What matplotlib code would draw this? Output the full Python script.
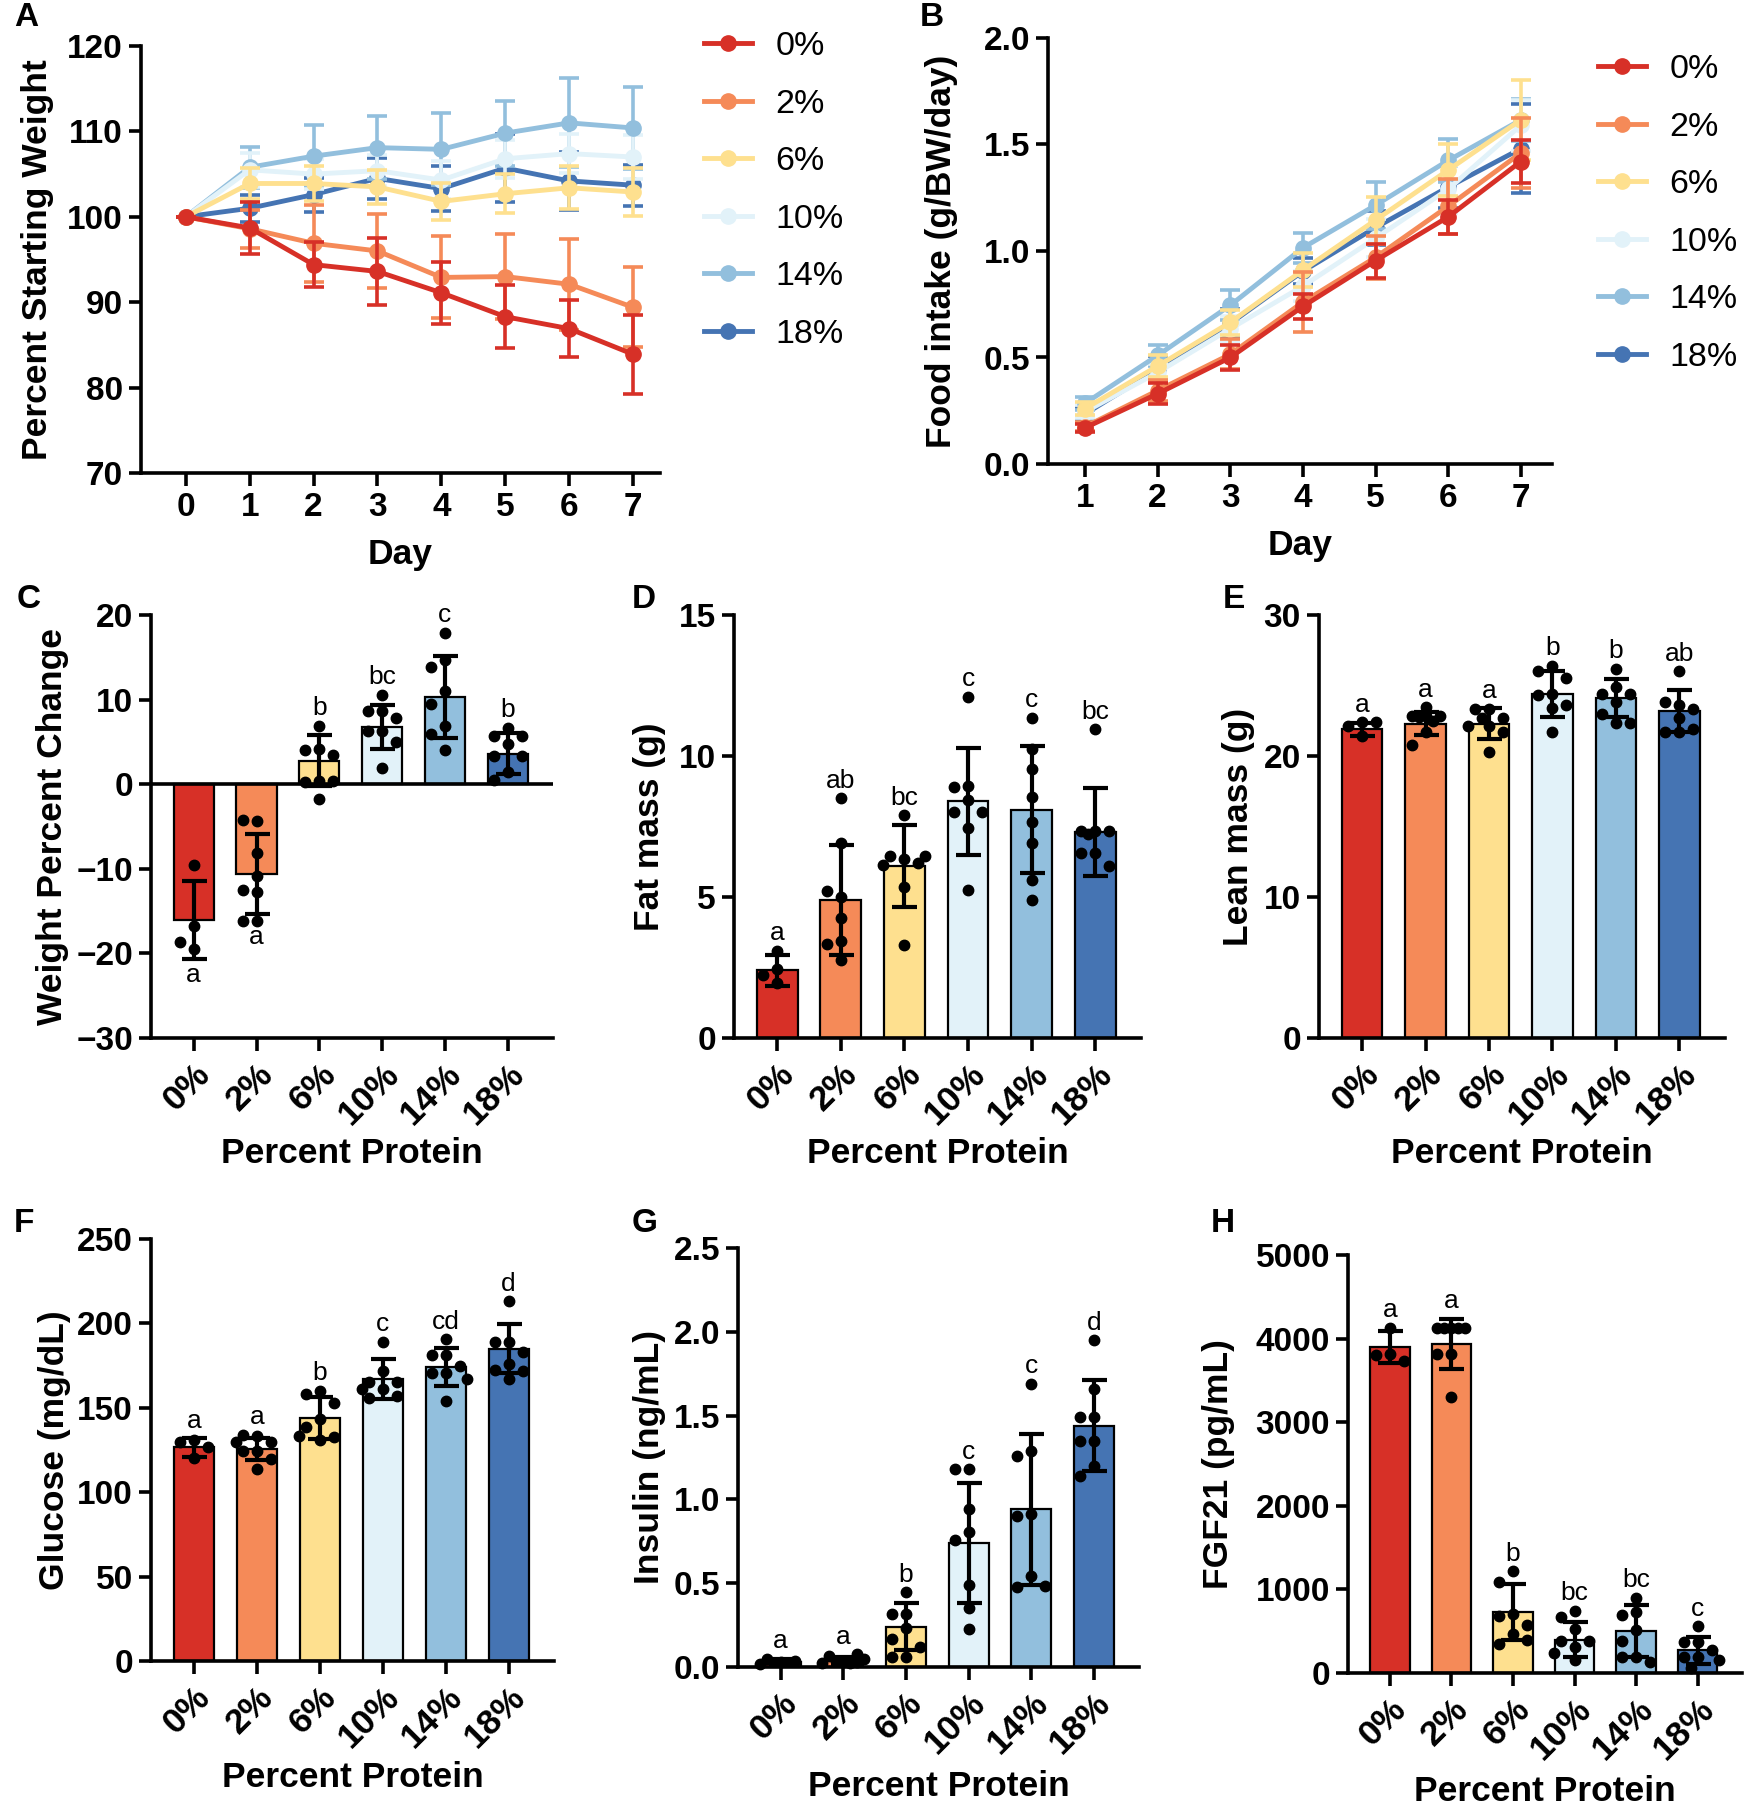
"""Low protein diet: body weight, food intake, body composition and serum panels (A-H)"""

from typing import Any
from typing import Sequence

import matplotlib as mpl
import numpy as np
from matplotlib import pyplot as plt

GROUPS = ["0%", "2%", "6%", "10%", "14%", "18%"]
COLOURS = ["#D73027", "#F58A58", "#FEE08F", "#E2F2F9", "#92BFDD", "#4574B3"]

# A: percent starting weight, one row per group
WEIGHT_DAYS = [0, 1, 2, 3, 4, 5, 6, 7]
WEIGHT_MEAN = [
    [100, 98.7, 94.4, 93.6, 91.1, 88.3, 86.9, 83.9],
    [100, 98.6, 96.9, 96.0, 92.9, 93.0, 92.1, 89.4],
    [100, 103.9, 103.9, 103.5, 101.8, 102.7, 103.4, 102.9],
    [100, 105.5, 105.0, 105.4, 104.3, 106.8, 107.4, 107.0],
    [100, 105.8, 107.1, 108.1, 107.9, 109.8, 111.0, 110.4],
    [100, 101.0, 102.6, 104.5, 103.3, 105.7, 104.2, 103.7],
]
WEIGHT_SD = [
    [0, 3.0, 2.6, 3.9, 3.6, 3.7, 3.3, 4.6],
    [0, 2.2, 4.5, 4.3, 4.8, 5.0, 5.3, 4.7],
    [0, 1.8, 2.0, 2.0, 2.2, 2.3, 2.5, 2.8],
    [0, 2.0, 1.8, 1.8, 2.2, 2.2, 2.3, 2.6],
    [0, 2.4, 3.6, 3.7, 4.2, 3.8, 5.2, 4.8],
    [0, 1.6, 2.0, 2.4, 2.6, 4.0, 3.4, 2.4],
]

# B: cumulative food intake
FOOD_DAYS = [1, 2, 3, 4, 5, 6, 7]
FOOD_MEAN = [
    [0.17, 0.33, 0.50, 0.74, 0.955, 1.16, 1.42],
    [0.175, 0.345, 0.515, 0.76, 0.97, 1.21, 1.46],
    [0.26, 0.46, 0.665, 0.91, 1.145, 1.38, 1.615],
    [0.245, 0.43, 0.635, 0.835, 1.06, 1.29, 1.59],
    [0.285, 0.51, 0.745, 1.015, 1.215, 1.425, 1.615],
    [0.235, 0.445, 0.66, 0.905, 1.11, 1.30, 1.48],
]
FOOD_SD = [
    [0.02, 0.05, 0.06, 0.06, 0.08, 0.08, 0.10],
    [0.02, 0.05, 0.07, 0.14, 0.10, 0.13, 0.165],
    [0.03, 0.05, 0.06, 0.08, 0.11, 0.12, 0.19],
    [0.03, 0.04, 0.06, 0.07, 0.09, 0.11, 0.12],
    [0.03, 0.05, 0.07, 0.07, 0.11, 0.10, 0.10],
    [0.03, 0.06, 0.07, 0.06, 0.08, 0.10, 0.21],
]

# C: weight percent change
CHANGE_MEAN = [-16.1, -10.6, 2.8, 6.8, 10.3, 3.6]
CHANGE_SD = [4.6, 4.7, 3.0, 2.6, 4.8, 2.4]
CHANGE_POINTS = [
    [-9.5, -16.8, -19.5, -18.7],
    [-4.4, -4.2, -8.1, -10.9, -12.8, -12.5, -16.2, -16.2],
    [6.9, 4.2, 4.0, 3.5, 0.4, 0.3, 0.4, -1.8],
    [10.6, 8.6, 8.6, 7.8, 6.3, 6.3, 5.0, 1.9],
    [17.9, 14.7, 13.8, 11.0, 9.5, 6.9, 5.9, 4.1],
    [6.7, 5.7, 5.7, 4.8, 3.3, 3.3, 1.5, 0.5],
]
CHANGE_LETTERS = ["a", "a", "b", "bc", "c", "b"]

# D: fat mass
FAT_MEAN = [2.4, 4.9, 6.1, 8.4, 8.1, 7.3]
FAT_SD = [0.55, 1.95, 1.45, 1.9, 2.25, 1.55]
FAT_POINTS = [
    [3.1, 2.45, 2.25, 1.95],
    [8.5, 6.9, 5.0, 5.2, 4.25, 3.45, 3.35, 2.75],
    [7.9, 6.35, 6.45, 6.2, 6.15, 5.35, 3.3, 6.45],
    [12.1, 8.95, 8.9, 8.45, 8.0, 8.0, 7.45, 5.25],
    [11.35, 10.25, 9.55, 8.55, 7.65, 6.9, 5.6, 4.9],
    [10.95, 7.35, 7.35, 7.35, 7.25, 6.55, 6.55, 6.1],
]
FAT_LETTERS = ["a", "ab", "bc", "c", "c", "bc"]

# E: lean mass
LEAN_MEAN = [21.9, 22.3, 22.3, 24.4, 24.1, 23.2]
LEAN_SD = [0.45, 0.8, 1.1, 1.6, 1.35, 1.5]
LEAN_POINTS = [
    [22.4, 22.1, 22.4, 21.4],
    [23.45, 22.85, 22.85, 22.85, 22.75, 22.5, 21.7, 20.8],
    [23.3, 23.3, 22.7, 22.7, 22.1, 22.1, 21.7, 20.3],
    [26.4, 26.0, 25.5, 24.4, 24.3, 23.6, 23.4, 21.7],
    [26.2, 24.9, 24.4, 24.4, 23.85, 23.0, 22.35, 22.35],
    [26.0, 23.65, 23.8, 23.3, 22.7, 21.7, 21.7, 21.95],
]
LEAN_LETTERS = ["a", "a", "a", "b", "b", "ab"]

# F: glucose
GLUCOSE_MEAN = [126.5, 125.5, 144, 167, 174, 185]
GLUCOSE_SD = [5.5, 6.5, 12.3, 11.7, 11.3, 14.6]
GLUCOSE_POINTS = [
    [131, 130, 127, 120],
    [133.5, 134, 124.5, 129.5, 129.5, 124.5, 119.5, 114],
    [160, 158, 153, 143.5, 138.5, 131, 132.5, 133],
    [189, 172, 165, 165, 161, 156, 157, 161],
    [190.5, 181, 181, 174.5, 170.5, 170.5, 167, 154],
    [213, 189, 189, 183, 176, 172.5, 167, 172],
]
GLUCOSE_LETTERS = ["a", "a", "b", "c", "cd", "d"]

# G: insulin
INSULIN_MEAN = [0.03, 0.04, 0.24, 0.74, 0.94, 1.44]
INSULIN_SD = [0.015, 0.02, 0.14, 0.36, 0.45, 0.27]
INSULIN_POINTS = [
    [0.03, 0.05, 0.035, 0.02],
    [0.03, 0.065, 0.075, 0.045, 0.025, 0.03, 0.035, 0.025],
    [0.445, 0.315, 0.315, 0.235, 0.17, 0.06, 0.06, 0.12],
    [1.18, 1.18, 0.945, 0.805, 0.76, 0.49, 0.35, 0.225],
    [1.69, 1.29, 1.26, 0.915, 0.9, 0.54, 0.48, 0.485],
    [1.95, 1.66, 1.49, 1.49, 1.35, 1.35, 1.2, 1.14],
]
INSULIN_LETTERS = ["a", "a", "b", "c", "c", "d"]

# H: FGF21
FGF21_MEAN = [3900, 3935, 725, 400, 505, 270]
FGF21_SD = [190, 300, 335, 210, 310, 165]
FGF21_POINTS = [
    [4130, 3810, 3800, 3730],
    [4130, 4130, 4130, 4130, 4130, 3810, 3810, 3305],
    [1215, 1090, 700, 680, 575, 470, 350, 400],
    [745, 665, 525, 385, 385, 315, 150, 235],
    [900, 725, 690, 515, 385, 195, 195, 130],
    [560, 370, 370, 270, 195, 195, 150, 55],
]
FGF21_LETTERS = ["a", "a", "b", "bc", "bc", "c"]

W, H = 1748, 1809  # figure size, pixels

MPL_RC: dict[str, dict[str, Any]] = {
    "font": {"family": ["Liberation Sans", "DejaVu Sans"], "size": 24, "weight": "bold"},
    "axes": {"linewidth": 2.6, "labelsize": 25.5, "labelweight": "bold"},
    "xtick": {"labelsize": 24, "major.size": 9, "major.width": 2.6, "major.pad": 5},
    "ytick": {"labelsize": 24, "major.size": 9, "major.width": 2.6, "major.pad": 4},
}


def px_axes(fig: plt.Figure, left: float, top: float, right: float, bottom: float) -> plt.Axes:
    """Axes from a pixel box (origin top left)"""
    ax = fig.add_axes([left / W, 1 - bottom / H, (right - left) / W, (bottom - top) / H])
    ax.spines[["top", "right"]].set_visible(False)
    return ax


def swarm(ax: plt.Axes, x0: float, values: Sequence[float], min_px: float = 13, step_px: float = 7) -> np.ndarray:
    """Horizontal offsets (data units) so dots do not pile up, kept inside the bar"""
    tr = ax.transData
    x_per_px = 1 / (tr.transform((1, 0))[0] - tr.transform((0, 0))[0])
    placed: list[tuple[float, float]] = []
    out = []
    for v in values:
        y = tr.transform((x0, v))[1]
        best, best_d = 0.0, -1.0
        for k in [0, -2, 2, -1, 1, -3, 3]:
            dx = k * step_px
            d = min((np.hypot(dx - px, y - py) for px, py in placed), default=np.inf)
            if d >= min_px:
                best = dx
                break
            if d > best_d:
                best, best_d = dx, d
        placed.append((best, y))
        out.append(best * x_per_px)
    return np.array(out)


def line_panel(ax, days, means, sds, xlim, ylim, yticks, ylabel, label_x, yfmt=None):
    """Mean +/- SD lines per group"""
    handles = []
    for i in reversed(range(len(GROUPS))):
        cont = ax.errorbar(
            days, means[i], yerr=sds[i], fmt="-o", color=COLOURS[i], ms=11, lw=3.5,
            elinewidth=2.6, capsize=7, capthick=2.6, zorder=3 + 0.1 * (6 - i), clip_on=False,
        )
        handles.insert(0, cont.lines[0])
    ax.set_xlim(*xlim)
    ax.set_ylim(*ylim)
    ax.set_xticks(days)
    ax.set_yticks(yticks)
    if yfmt:
        ax.yaxis.set_major_formatter(yfmt)
    ax.set_xlabel("Day")
    ax.set_ylabel(ylabel)
    ax.xaxis.set_label_coords(0.5, -0.153)
    ax.yaxis.set_label_coords(label_x, 0.5)
    return handles


def bar_panel(ax, means, sds, points, letters, ylim, yticks, ylabel, label_x, xlabel_y, yfmt=None):
    """Bars (mean +/- SD) with individual animals and significance letters"""
    x = np.arange(len(GROUPS))
    ax.set_xlim(-0.68, 5.72)
    ax.set_ylim(*ylim)
    ax.bar(x, means, width=0.64, color=COLOURS, edgecolor="black", linewidth=1.6, zorder=2)
    ax.errorbar(x, means, yerr=sds, fmt="none", ecolor="black", elinewidth=3,
                capsize=9, capthick=3, zorder=4)
    for i, pts in enumerate(points):
        ax.plot(i + swarm(ax, i, pts), pts, "o", color="black", ms=7.5, zorder=3, clip_on=False)
        if means[i] >= 0:
            top = max(means[i] + sds[i], max(pts))
            ax.annotate(letters[i], (i, top), xytext=(0, 4), textcoords="offset points",
                        ha="center", va="bottom", fontsize=19, fontweight="normal")
        else:
            low = min(means[i] - sds[i], min(pts))
            ax.annotate(letters[i], (i, low), xytext=(0, -3), textcoords="offset points",
                        ha="center", va="top", fontsize=19, fontweight="normal")
    if ylim[0] < 0:
        ax.axhline(0, color="black", lw=2.6, zorder=5)
    ax.set_xticks(x)
    ax.set_xticklabels(GROUPS, rotation=45, ha="right", va="top", rotation_mode="anchor",
                       fontsize=25.5)
    ax.tick_params(axis="x", pad=5)
    ax.set_yticks(yticks)
    if yfmt:
        ax.yaxis.set_major_formatter(yfmt)
    ax.set_xlabel("Percent Protein")
    ax.set_ylabel(ylabel)
    ax.xaxis.set_label_coords(0.5, xlabel_y)
    ax.yaxis.set_label_coords(label_x, 0.5)


def legend(fig, handles, left_px, top_px):
    fig.legend(
        handles, GROUPS, loc="upper left", bbox_to_anchor=(left_px / W, 1 - top_px / H),
        frameon=False, prop={"size": 24.5, "weight": "normal"}, handlelength=1.4,
        handletextpad=0.7, labelspacing=0.78, borderpad=0, borderaxespad=0,
    )


for key, value in MPL_RC.items():
    mpl.rc(key, **value)

fig = plt.figure(figsize=(W / 100, H / 100), dpi=100)
one_dec = mpl.ticker.FormatStrFormatter("%.1f")

ax_a = px_axes(fig, 141, 46, 660, 473)
h_a = line_panel(ax_a, WEIGHT_DAYS, WEIGHT_MEAN, WEIGHT_SD, (-0.7, 7.42), (70, 120),
                 range(70, 121, 10), "Percent Starting Weight", -0.168)
legend(fig, h_a, 704, 31)

ax_b = px_axes(fig, 1048, 38, 1552, 464)
h_b = line_panel(ax_b, FOOD_DAYS, FOOD_MEAN, FOOD_SD, (0.49, 7.43), (0, 2.0),
                 np.arange(0, 2.01, 0.5), "Food intake (g/BW/day)", -0.178, one_dec)
legend(fig, h_b, 1598, 54)

bar_panel(px_axes(fig, 151, 615, 553, 1038), CHANGE_MEAN, CHANGE_SD, CHANGE_POINTS,
          CHANGE_LETTERS, (-30, 20), range(-30, 21, 10), "Weight Percent Change", -0.205, -0.235)
bar_panel(px_axes(fig, 734, 615, 1141, 1038), FAT_MEAN, FAT_SD, FAT_POINTS,
          FAT_LETTERS, (0, 15), range(0, 16, 5), "Fat mass (g)", -0.167, -0.235)
bar_panel(px_axes(fig, 1319, 615, 1725, 1038), LEAN_MEAN, LEAN_SD, LEAN_POINTS,
          LEAN_LETTERS, (0, 30), range(0, 31, 10), "Lean mass (g)", -0.157, -0.235)
bar_panel(px_axes(fig, 151, 1239, 554, 1661), GLUCOSE_MEAN, GLUCOSE_SD, GLUCOSE_POINTS,
          GLUCOSE_LETTERS, (0, 250), range(0, 251, 50), "Glucose (mg/dL)", -0.198, -0.237)
bar_panel(px_axes(fig, 738, 1248, 1139, 1667), INSULIN_MEAN, INSULIN_SD, INSULIN_POINTS,
          INSULIN_LETTERS, (0, 2.5), np.arange(0, 2.51, 0.5), "Insulin (ng/mL)", -0.179, -0.245,
          one_dec)
bar_panel(px_axes(fig, 1348, 1255, 1742, 1673), FGF21_MEAN, FGF21_SD, FGF21_POINTS,
          FGF21_LETTERS, (0, 5000), range(0, 5001, 1000), "FGF21 (pg/mL)", -0.286, -0.245)

for letter, x, y in [("A", 14, 17), ("B", 920, 17), ("C", 17, 600), ("D", 632, 600),
                     ("E", 1223, 600), ("F", 14, 1223), ("G", 632, 1223), ("H", 1211, 1223)]:
    fig.text(x / W, 1 - y / H, letter, fontsize=24, fontweight="bold", ha="left", va="center")

fig.savefig("out.png", dpi=100)
